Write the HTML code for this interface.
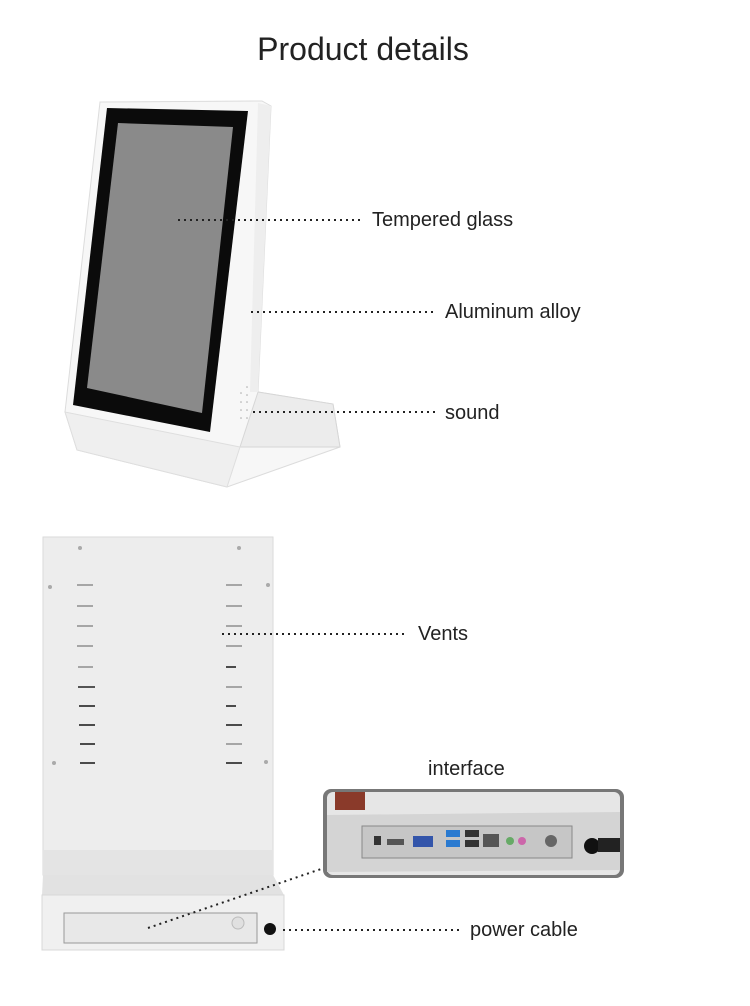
<!DOCTYPE html>
<html><head><meta charset="utf-8"><style>
body{margin:0;background:#fff;}
svg{display:block;}
text{font-family:"Liberation Sans",Arial,sans-serif;fill:#222;}
</style></head><body>
<svg width="750" height="1006" viewBox="0 0 750 1006" xmlns="http://www.w3.org/2000/svg">
<rect width="750" height="1006" fill="#fff"/>
<text x="363" y="60" font-size="32" text-anchor="middle">Product details</text>

<!-- upper device -->
<polygon points="100,102 262,101 271,106 258,392 333,404 340,447 227,487 77,450 65,412" fill="#f7f7f7" stroke="#dcdcdc" stroke-width="1"/>
<polygon points="258,392 333,404 340,447 240,447" fill="#ececec" stroke="#d6d6d6"/>
<polygon points="258,103 271,106 258,392 250,392" fill="#eeeeee"/>
<polygon points="65,412 77,450 227,487 240,447" fill="#efefef" stroke="#dedede"/>
<polygon points="107,108 248,111 210,432 73,405" fill="#0b0b0b"/>
<polygon points="118,123 233,127 202,413 87,388" fill="#8a8a8a"/>
<g fill="#aaa"><circle cx="247" cy="387" r=".8"/><circle cx="241" cy="393" r=".8"/><circle cx="247" cy="395" r=".8"/><circle cx="241" cy="402" r=".8"/><circle cx="247" cy="402" r=".8"/><circle cx="241" cy="410" r=".8"/><circle cx="247" cy="410" r=".8"/><circle cx="241" cy="418" r=".8"/><circle cx="247" cy="418" r=".8"/></g>

<text x="372" y="226" font-size="20">Tempered glass</text>
<text x="445" y="318" font-size="20">Aluminum alloy</text>
<text x="445" y="419" font-size="20">sound</text>
<text x="418" y="640" font-size="20">Vents</text>
<text x="428" y="775" font-size="20">interface</text>
<text x="470" y="936" font-size="20">power cable</text>

<!-- lower device -->
<rect x="43" y="537" width="230" height="338" fill="#ededed" stroke="#dadada"/>
<rect x="43" y="850" width="230" height="25" fill="#e4e4e4"/>
<polygon points="43,875 273,875 284,895 42,895" fill="#e2e2e2"/>
<rect x="42" y="895" width="242" height="55" fill="#f0f0f0" stroke="#d8d8d8"/>
<rect x="64" y="913" width="193" height="30" fill="#e8e8e8" stroke="#999"/>
<circle cx="238" cy="923" r="6" fill="#e0e0e0" stroke="#bbb"/>
<circle cx="270" cy="929" r="6" fill="#111"/>
<g fill="#aaa"><circle cx="80" cy="548" r="2"/><circle cx="239" cy="548" r="2"/><circle cx="50" cy="587" r="2"/><circle cx="268" cy="585" r="2"/><circle cx="54" cy="763" r="2"/><circle cx="266" cy="762" r="2"/></g>
<g stroke="#777" stroke-width="1.2">
<line x1="77" y1="585" x2="93" y2="585"/><line x1="77" y1="606" x2="93" y2="606"/><line x1="77" y1="626" x2="93" y2="626"/><line x1="77" y1="646" x2="93" y2="646"/><line x1="78" y1="667" x2="93" y2="667"/>
<line x1="226" y1="585" x2="242" y2="585"/><line x1="226" y1="606" x2="242" y2="606"/><line x1="226" y1="626" x2="242" y2="626"/><line x1="226" y1="646" x2="242" y2="646"/><line x1="226" y1="687" x2="242" y2="687"/><line x1="226" y1="744" x2="242" y2="744"/>
</g>
<g stroke="#222" stroke-width="1.6">
<line x1="78" y1="687" x2="95" y2="687"/><line x1="79" y1="706" x2="95" y2="706"/><line x1="79" y1="725" x2="95" y2="725"/><line x1="80" y1="744" x2="95" y2="744"/><line x1="80" y1="763" x2="95" y2="763"/>
<line x1="226" y1="667" x2="236" y2="667"/><line x1="226" y1="706" x2="236" y2="706"/><line x1="226" y1="725" x2="242" y2="725"/><line x1="226" y1="763" x2="242" y2="763"/>
</g>

<!-- interface inset -->
<rect x="323" y="789" width="301" height="89" rx="8" fill="#777"/>
<rect x="327" y="792" width="293" height="83" rx="6" fill="#e6e6e6"/>
<rect x="335" y="792" width="30" height="18" fill="#8a3a2a"/>
<polygon points="327,815 620,812 620,870 327,872" fill="#d4d4d4"/>
<rect x="362" y="826" width="210" height="32" fill="#c6c6c6" stroke="#888"/>
<rect x="374" y="836" width="7" height="9" fill="#333"/>
<rect x="387" y="839" width="17" height="6" fill="#555"/>
<rect x="413" y="836" width="20" height="11" fill="#3355aa"/>
<rect x="446" y="830" width="14" height="7" fill="#2a7ad0"/><rect x="446" y="840" width="14" height="7" fill="#2a7ad0"/>
<rect x="465" y="830" width="14" height="7" fill="#333"/><rect x="465" y="840" width="14" height="7" fill="#333"/>
<rect x="483" y="834" width="16" height="13" fill="#555"/>
<circle cx="510" cy="841" r="4" fill="#6a6"/>
<circle cx="522" cy="841" r="4" fill="#c6a"/>
<circle cx="551" cy="841" r="6" fill="#666"/>
<circle cx="592" cy="846" r="8" fill="#111"/>
<rect x="598" y="838" width="22" height="14" fill="#222"/>

<g stroke="#222" stroke-width="2" stroke-dasharray="2,4">
<line x1="178" y1="220" x2="362" y2="220"/>
<line x1="251" y1="312" x2="436" y2="312"/>
<line x1="253" y1="412" x2="436" y2="412"/>
<line x1="222" y1="634" x2="408" y2="634"/>
<line x1="283" y1="930" x2="462" y2="930"/>
<line x1="148" y1="928" x2="324" y2="868"/>
</g>
</svg>
</body></html>
